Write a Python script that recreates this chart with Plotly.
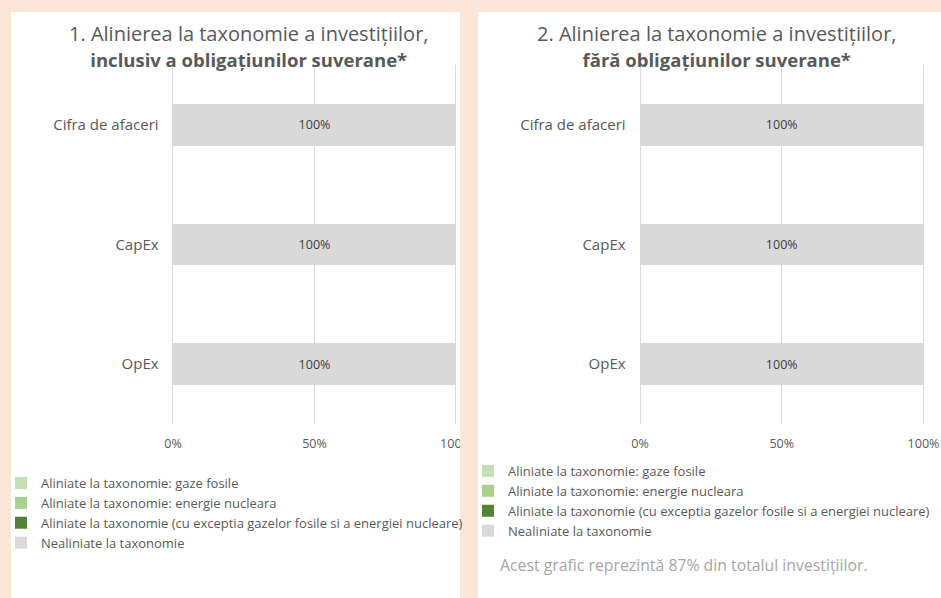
import plotly.graph_objects as go

W, H = 941, 598

categories = ["Cifra de afaceri", "CapEx", "OpEx"]
series_names = [
    "Aliniate la taxonomie: gaze fosile",
    "Aliniate la taxonomie: energie nucleara",
    "Aliniate la taxonomie (cu exceptia gazelor fosile si a energiei nucleare)",
    "Nealiniate la taxonomie",
]
series_colors = ["#c5e0b4", "#a9d18e", "#548235", "#d9d9d9"]

# chart 1: including sovereign bonds
chart1_values = [
    [0, 0, 0],
    [0, 0, 0],
    [0, 0, 0],
    [100, 100, 100],
]
# chart 2: excluding sovereign bonds
chart2_values = [
    [0, 0, 0],
    [0, 0, 0],
    [0, 0, 0],
    [100, 100, 100],
]

x_ticks = [0, 50, 100]
x_tick_labels = ["0%", "50%", "100%"]
title1_l1 = "1. Alinierea la taxonomie a investițiilor,"
title1_l2 = "inclusiv a obligațiunilor suverane*"
title2_l1 = "2. Alinierea la taxonomie a investițiilor,"
title2_l2 = "fără obligațiunilor suverane*"
footnote = "Acest grafic reprezintă 87% din totalul investițiilor."

FONT = "Open Sans"
TXT = "#595959"

fig = go.Figure()

for vals_set, xa, ya, lg in [(chart1_values, "x", "y", "legend"), (chart2_values, "x2", "y2", "legend2")]:
    for name, color, vals in zip(series_names, series_colors, vals_set):
        is_main = name == "Nealiniate la taxonomie"
        fig.add_trace(go.Bar(
            y=categories, x=vals, name=name, orientation="h",
            marker=dict(color=color, line=dict(width=0)),
            width=0.35,
            xaxis=xa, yaxis=ya, legend=lg,
            texttemplate="%{x:.0f}%" if is_main else None,
            textposition="inside" if is_main else "none",
            insidetextanchor="middle",
            textfont=dict(family=FONT, size=12.5, color="#404040"),
            hoverinfo="skip",
        ))

ydom = [1 - 424 / H, 1 - 65 / H]
pad = 0.5  # small range padding so edge gridlines are drawn
xcommon = dict(range=[-pad, 100 + pad], tickvals=x_ticks, ticktext=x_tick_labels, showgrid=True,
               gridcolor="#d9d9d9", gridwidth=1, zeroline=False, showline=False,
               ticks="", tickfont=dict(family=FONT, size=12.5, color=TXT),
               ticklabelstandoff=10, fixedrange=True)
ycommon = dict(autorange="reversed", showgrid=False, zeroline=False, showline=False,
               ticks="", tickfont=dict(family=FONT, size=15, color=TXT),
               ticklabelstandoff=12, domain=ydom, fixedrange=True)

legcommon = dict(font=dict(family=FONT, size=13, color=TXT), bgcolor="rgba(0,0,0,0)",
                 borderwidth=0, traceorder="normal", itemclick=False, itemdoubleclick=False,
                 xanchor="left", yanchor="top", tracegroupgap=0, itemwidth=30)


def dom(p0, p1, span=100):
    # extend pixel domain so that 0..100 lands on p0..p1
    ppu = (p1 - p0) / span
    return [(p0 - pad * ppu) / W, (p1 + pad * ppu) / W]


def ann(text, x, y, size, color=TXT, xanchor="center"):
    return dict(text=text, xref="paper", yref="paper", x=x / W, y=1 - y / H, showarrow=False,
                xanchor=xanchor, yanchor="middle", align="center",
                font=dict(family=FONT, size=size, color=color))


def title(l1, l2):
    return f"{l1}<br><span style='font-size:18.5px'><b>{l2}</b></span>"


fig.update_layout(
    width=W, height=H,
    margin=dict(l=0, r=0, t=0, b=0, autoexpand=False),
    paper_bgcolor="#fbe5d6",
    plot_bgcolor="rgba(0,0,0,0)",
    barmode="stack",
    xaxis=dict(domain=dom(173, 456), anchor="y", **xcommon),
    yaxis=dict(anchor="x", **ycommon),
    xaxis2=dict(domain=dom(640, 923.5), anchor="y2", **xcommon),
    yaxis2=dict(anchor="x2", **ycommon),
    legend=dict(x=1 / W, y=1 - 468 / H, **legcommon),
    legend2=dict(x=468 / W, y=1 - 456 / H, **legcommon),
    showlegend=True,
    shapes=[
        dict(type="rect", xref="paper", yref="paper", x0=11 / W, x1=460 / W, y0=0, y1=1 - 12 / H,
             fillcolor="white", line=dict(width=0), layer="below"),
        dict(type="rect", xref="paper", yref="paper", x0=478 / W, x1=1, y0=0, y1=1 - 12 / H,
             fillcolor="white", line=dict(width=0), layer="below"),
        dict(type="rect", xref="paper", yref="paper", x0=460 / W, x1=478 / W, y0=0, y1=1,
             fillcolor="#fbe5d6", line=dict(width=0), layer="above"),
    ],
    annotations=[
        ann(title(title1_l1, title1_l2), 249, 46, 20),
        ann(title(title2_l1, title2_l2), 716, 46, 20),
        ann(footnote, 498, 565, 15.8, color="#a6a6a6", xanchor="left"),
    ],
)

fig.write_html("out.html", config={"displayModeBar": False})
